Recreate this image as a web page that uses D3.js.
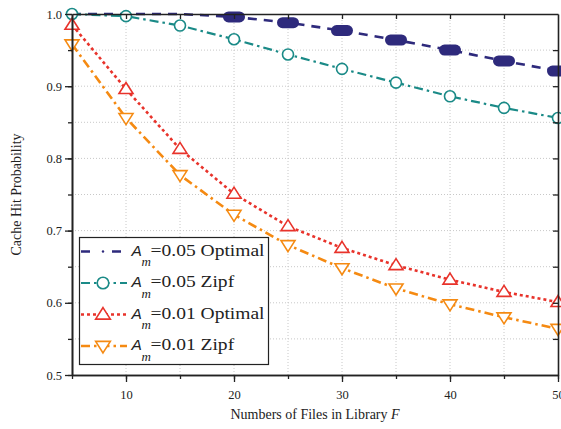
<!DOCTYPE html>
<html>
<head>
<meta charset="utf-8">
<script src="https://cdn.jsdelivr.net/npm/d3@7"></script>
<style>
  body { margin: 0; background: #fff; }
  svg { display: block; }
</style>
</head>
<body>
<svg id="chart" width="561" height="429"></svg>
<script>
// Library size F (number of files)
const files = [5, 10, 15, 20, 25, 30, 35, 40, 45, 50];

// Cache hit probability for each scheme
const optimal005 = [1.0, 1.0, 1.0, 0.996, 0.988, 0.977, 0.964, 0.950, 0.935, 0.921];
const zipf005    = [1.0, 0.997, 0.984, 0.965, 0.944, 0.924, 0.905, 0.886, 0.870, 0.856];
const optimal001 = [0.985, 0.896, 0.813, 0.751, 0.706, 0.676, 0.652, 0.632, 0.615, 0.601];
const zipf001    = [0.958, 0.856, 0.777, 0.722, 0.680, 0.648, 0.620, 0.598, 0.580, 0.564];

const seriesNames = ["=0.05 Optimal", "=0.05 Zipf", "=0.01 Optimal", "=0.01 Zipf"];

const xTickLabels = [10, 20, 30, 40, 50];
const yTickLabels = [0.5, 0.6, 0.7, 0.8, 0.9, 1.0];

const serif = "'Liberation Serif', 'Times New Roman', serif";
const svg = d3.select("#chart");

const plotLeft = 72, plotRight = 558, plotTop = 14, plotBottom = 375;

const x = d3.scaleLinear().domain([5, 50]).range([plotLeft, plotRight]);
const y = d3.scaleLinear().domain([0.5, 1.0]).range([plotBottom, plotTop]);

const minorX = d3.range(5, 50.01, 5);
const minorY = d3.range(0.5, 1.001, 0.05).map(v => +v.toFixed(2));

// dotted grid
const grid = svg.append("g");
grid.selectAll(".gx").data(minorX.filter(v => v > 5 && v < 50)).join("line")
  .attr("x1", d => x(d)).attr("x2", d => x(d))
  .attr("y1", plotTop).attr("y2", plotBottom)
  .attr("stroke", "#c8c8c8").attr("stroke-width", 1).attr("stroke-dasharray", "1,2");
grid.selectAll(".gy").data(minorY.filter(v => v > 0.5 && v < 1.0)).join("line")
  .attr("x1", plotLeft).attr("x2", plotRight)
  .attr("y1", d => y(d)).attr("y2", d => y(d))
  .attr("stroke", "#c8c8c8").attr("stroke-width", 1).attr("stroke-dasharray", "1,2");

// series definitions
const series = [
  { values: optimal005, color: "#2e2a7c", dash: "9,7", width: 2.6, marker: "pill" },
  { values: zipf005,    color: "#1a8a87", dash: "9,4,2.5,4", width: 2.2, marker: "circle" },
  { values: optimal001, color: "#e8332b", dash: "3,3", width: 2.6, marker: "tri" },
  { values: zipf001,    color: "#f58a12", dash: "9,4,2.5,4", width: 2.6, marker: "itri" }
];

const line = d3.line().x((d, i) => x(files[i])).y(d => y(d));

series.forEach(s => {
  svg.append("path").datum(s.values)
    .attr("d", line)
    .attr("fill", "none")
    .attr("stroke", s.color)
    .attr("stroke-width", s.width)
    .attr("stroke-dasharray", s.dash);
});

function drawMarker(g, type, cx, cy, color, scale) {
  const k = scale || 1;
  if (type === "pill") {
    g.append("rect")
      .attr("x", cx - 11 * k).attr("y", cy - 5.5 * k)
      .attr("width", 22 * k).attr("height", 11 * k)
      .attr("rx", 5.5 * k)
      .attr("fill", color);
  } else if (type === "dot") {
    g.append("circle").attr("cx", cx).attr("cy", cy).attr("r", 1.2).attr("fill", color);
  } else if (type === "circle") {
    g.append("circle").attr("cx", cx).attr("cy", cy).attr("r", 5.5 * k)
      .attr("fill", "#fff").attr("stroke", color).attr("stroke-width", 1.6);
  } else if (type === "tri") {
    const h = 11 * k, w = 14 * k;
    g.append("path")
      .attr("d", `M${cx},${cy - h * 0.6}L${cx + w / 2},${cy + h * 0.4}L${cx - w / 2},${cy + h * 0.4}Z`)
      .attr("fill", "#fff").attr("stroke", color).attr("stroke-width", 1.6);
  } else if (type === "itri") {
    const h = 11 * k, w = 14 * k;
    g.append("path")
      .attr("d", `M${cx},${cy + h * 0.6}L${cx + w / 2},${cy - h * 0.4}L${cx - w / 2},${cy - h * 0.4}Z`)
      .attr("fill", "#fff").attr("stroke", color).attr("stroke-width", 1.6);
  }
}

// markers (saturated points at 1.0 of the optimal curve are left unmarked)
series.forEach(s => {
  const g = svg.append("g");
  s.values.forEach((v, i) => {
    if (s.marker === "pill" && v >= 1.0) return;
    drawMarker(g, s.marker, x(files[i]), y(v), s.color);
  });
});

// axes
const axisG = svg.append("g").attr("font-family", serif);

function styleAxis(g) {
  g.selectAll("path.domain").attr("stroke", "#222").attr("stroke-width", 1.6);
  g.selectAll(".tick line").attr("stroke", "#222").attr("stroke-width", 1.3);
  g.selectAll("text").attr("font-family", serif).attr("font-size", 12.5).attr("fill", "#222");
}

// bottom: major labelled, minor unlabelled
axisG.append("g").attr("transform", `translate(0,${plotBottom})`)
  .call(d3.axisBottom(x).tickValues(minorX).tickSize(4).tickFormat("").tickSizeOuter(0))
  .call(styleAxis);
axisG.append("g").attr("transform", `translate(0,${plotBottom})`)
  .call(d3.axisBottom(x).tickValues(xTickLabels).tickSize(7).tickPadding(8).tickFormat(d3.format("d")).tickSizeOuter(0))
  .call(styleAxis);

// left
axisG.append("g").attr("transform", `translate(${plotLeft},0)`)
  .call(d3.axisLeft(y).tickValues(minorY).tickSize(4).tickFormat("").tickSizeOuter(0))
  .call(styleAxis);
axisG.append("g").attr("transform", `translate(${plotLeft},0)`)
  .call(d3.axisLeft(y).tickValues(yTickLabels).tickSize(7).tickPadding(3).tickFormat(d3.format(".1f")).tickSizeOuter(0))
  .call(styleAxis);

// top and right frame with inward ticks
axisG.append("g").attr("transform", `translate(0,${plotTop})`)
  .call(d3.axisBottom(x).tickValues(minorX.filter(v => v > 5 && v < 50)).tickSize(5).tickFormat("").tickSizeOuter(0))
  .call(styleAxis);
axisG.append("g").attr("transform", `translate(${plotRight},0)`)
  .call(d3.axisLeft(y).tickValues(minorY.filter(v => v > 0.5 && v < 1.0)).tickSize(5).tickFormat("").tickSizeOuter(0))
  .call(styleAxis);

// axis titles
svg.append("text")
  .attr("x", (plotLeft + plotRight) / 2).attr("y", 419)
  .attr("text-anchor", "middle")
  .attr("font-family", serif).attr("font-size", 14).attr("fill", "#222")
  .html("Numbers of Files in Library <tspan font-style='italic'>F</tspan>");

svg.append("text")
  .attr("transform", `translate(21,${(plotTop + plotBottom) / 2}) rotate(-90)`)
  .attr("text-anchor", "middle")
  .attr("font-family", serif).attr("font-size", 14).attr("fill", "#222")
  .text("Cache Hit Probability");

// legend
const lg = svg.append("g");
lg.append("rect")
  .attr("x", 79.5).attr("y", 237.5).attr("width", 189).attr("height", 127)
  .attr("fill", "#fff").attr("stroke", "#222").attr("stroke-width", 1.2);

const legendMarkers = ["dot", "circle", "tri", "itri"];
const legendLabels = [];
series.forEach((s, i) => {
  const cy = 251.5 + i * 31.5;
  lg.append("line")
    .attr("x1", 81).attr("x2", i === 0 ? 121 : 127).attr("y1", cy).attr("y2", cy)
    .attr("stroke", s.color).attr("stroke-width", s.width)
    .attr("stroke-dasharray", i === 0 ? "9,22,9" : s.dash);
  drawMarker(lg, legendMarkers[i], 103, cy, s.color, 1.05);
  lg.append("text")
    .attr("x", 131.5).attr("y", cy + 4)
    .attr("font-family", "'Liberation Sans', Arial, sans-serif")
    .attr("font-style", "italic").attr("font-size", 15.5).attr("fill", "#222")
    .text("A");
  lg.append("text")
    .attr("x", 141.5).attr("y", cy + 14.5)
    .attr("font-family", serif).attr("font-style", "italic")
    .attr("font-size", 13).attr("fill", "#222")
    .text("m");
  legendLabels.push(lg.append("text")
    .attr("x", 150.5).attr("y", cy + 4)
    .attr("font-family", serif).attr("font-size", 17.5).attr("fill", "#222")
    .text(seriesNames[i]));
});
// narrow, tall legend lettering
const squeeze = 114 / legendLabels[0].node().getComputedTextLength();
legendLabels.forEach(t => {
  t.attr("textLength", t.node().getComputedTextLength() * squeeze)
   .attr("lengthAdjust", "spacingAndGlyphs");
});
</script>
</body>
</html>
